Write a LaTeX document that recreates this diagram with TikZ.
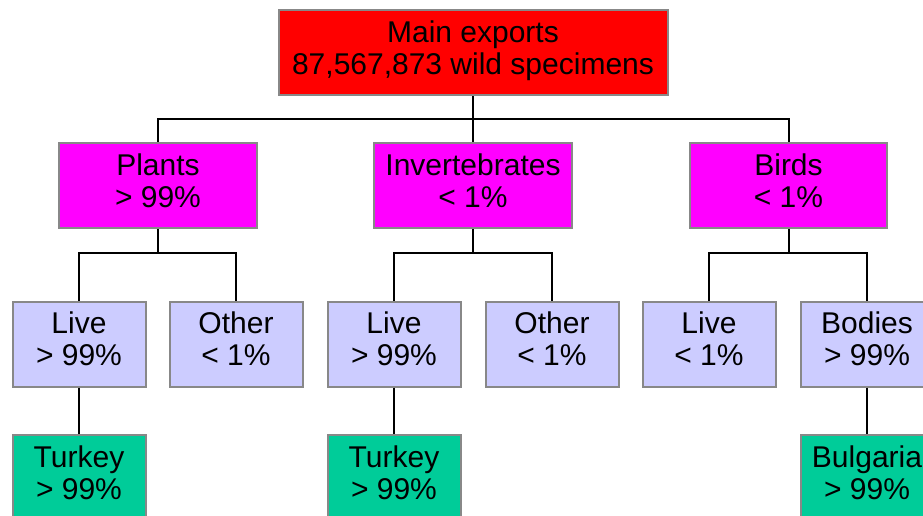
\documentclass[tikz,border=0pt]{standalone}
\usepackage{fontspec}
\setmainfont{Liberation Sans}
\definecolor{cRed}{HTML}{FF0000}
\definecolor{cMag}{HTML}{FF00FF}
\definecolor{cLav}{HTML}{CCCCFF}
\definecolor{cGrn}{HTML}{00CC99}
\definecolor{cBord}{HTML}{888888}
\begin{document}
\begin{tikzpicture}[x=1pt,y=-1pt,
  box/.style={draw=cBord,line width=2pt,inner sep=0pt,align=center,
    minimum height=85pt,text height=54pt,text depth=11pt,
    font=\fontsize{30}{32}\selectfont},
  topbox/.style={box,fill=cRed,minimum width=389pt},
  catbox/.style={box,fill=cMag,minimum width=198pt},
  subbox/.style={box,fill=cLav,minimum width=133pt},
  ctrybox/.style={box,fill=cGrn,minimum width=133pt},
  link/.style={draw=black,line width=2pt}]
\useasboundingbox (0,0) rectangle (923,515);
\clip (0,0) rectangle (923,515);
\fill[white] (0,0) rectangle (923,515);
\node[topbox] (top) at (473,52.5) {Main exports\\87,567,873 wild specimens};
\node[catbox] (plants) at (158,185.5) {Plants\\> 99\%};
\node[catbox] (inv) at (473,185.5) {Invertebrates\\< 1\%};
\node[catbox,minimum width=197pt] (birds) at (788.5,185.5) {Birds\\< 1\%};
\node[subbox] (pl) at (79,344) {Live\\> 99\%};
\node[subbox] (po) at (236,344) {Other\\< 1\%};
\node[subbox] (il) at (394,344) {Live\\> 99\%};
\node[subbox] (io) at (552,344) {Other\\< 1\%};
\node[subbox] (bl) at (709,344) {Live\\< 1\%};
\node[subbox] (bb) at (867,344) {Bodies\\> 99\%};
\node[ctrybox] (pt) at (79,477.5) {Turkey\\> 99\%};
\node[ctrybox] (it) at (394,477.5) {Turkey\\> 99\%};
\node[ctrybox] (bg) at (867,477.5) {Bulgaria\\> 99\%};
\coordinate (bus1) at (0,118.5);
\coordinate (bus2) at (0,253);
\path[link] (top.south) -- (top.south|-bus1) -| (plants.north);
\path[link] (top.south|-bus1) -| (birds.north);
\path[link] (top.south) -- (inv.north);
\path[link] (plants.south) -- (plants.south|-bus2) -| (pl.north);
\path[link] (plants.south|-bus2) -| (po.north);
\path[link] (inv.south) -- (inv.south|-bus2) -| (il.north);
\path[link] (inv.south|-bus2) -| (io.north);
\path[link] (birds.south) -- (birds.south|-bus2) -| (bl.north);
\path[link] (birds.south|-bus2) -| (bb.north);
\path[link] (pl.south) -- (pt.north);
\path[link] (il.south) -- (it.north);
\path[link] (bb.south) -- (bg.north);
\end{tikzpicture}
\end{document}
